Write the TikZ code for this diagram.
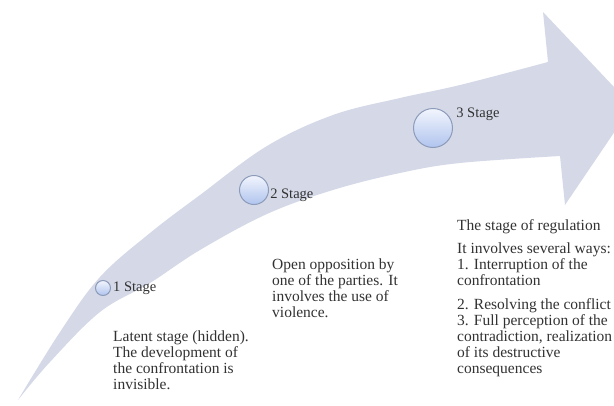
\documentclass[tikz,border=0pt]{standalone}
\usepackage{fontspec}
\setmainfont{Liberation Serif}
\usetikzlibrary{positioning}

\definecolor{arrowfill}{RGB}{213,217,231}
\definecolor{ptline}{RGB}{140,155,185}
\definecolor{pttop}{RGB}{242,245,253}
\definecolor{ptbot}{RGB}{176,196,238}
\definecolor{txt}{RGB}{50,50,50}

\begin{document}
\begin{tikzpicture}[x=1pt,y=-1pt,node distance=1pt,
	stagept/.style	={circle,draw=ptline,line width=1pt,inner sep=0pt,top color=pttop,bottom color=ptbot},
	stagelbl/.style	={inner sep=1pt,font=\fontsize{14.5}{16}\selectfont,text=txt},
	notes/.style	={anchor=north west,inner sep=0pt,align=left,font=\fontsize{15.5}{16}\selectfont,text=txt},
	]
	
	\useasboundingbox (0,0) rectangle (614,405);
	\clip (0,0) rectangle (614,405);
	
	% curved arrow
	\fill [arrowfill] plot [smooth,tension=0.6] coordinates {(18,400) (60,332) (100,277) (150,233) (200,195) (267,146) (333,115) (400,98) (460,85) (548,62)}
		-- (543,12) -- (632,106) -- (565,205) -- (560,156)
		-- plot [smooth,tension=0.6] coordinates {(560,156) (460,163) (400,173) (333,190) (267,214) (200,250) (150,283) (100,312) (50,362) (18,400)} -- cycle;
	
	\node [stagept,minimum size=15pt] (c1) at (103,288) {};
	\node [stagept,minimum size=29pt] (c2) at (254,190) {};
	\node [stagept,minimum size=39pt] (c3) at (433,128) {};
	
	\node [stagelbl] (l1) [right=of c1] {1 Stage};
	\node [stagelbl] (l2) [right=of c2.-20] {2 Stage};
	\node [stagelbl] (l3) [right=8pt of c3.north east] {3 Stage};
	
	\node [notes] (n1) at (113,331) {Latent stage (hidden).\\ The development of\\ the confrontation is\\ invisible.};
	\node [notes] (n2) at (272,259) {Open opposition by\\ one of the parties. It\\ involves the use of\\ violence.};
	\node [notes] (n3) at (457,219) {The stage of regulation\\[7pt] It involves several ways:\\ 1. Interruption of the\\ confrontation\\[8pt] 2. Resolving the conflict\\ 3. Full perception of the\\ contradiction, realization\\ of its destructive\\ consequences};
	
\end{tikzpicture}
\end{document}
